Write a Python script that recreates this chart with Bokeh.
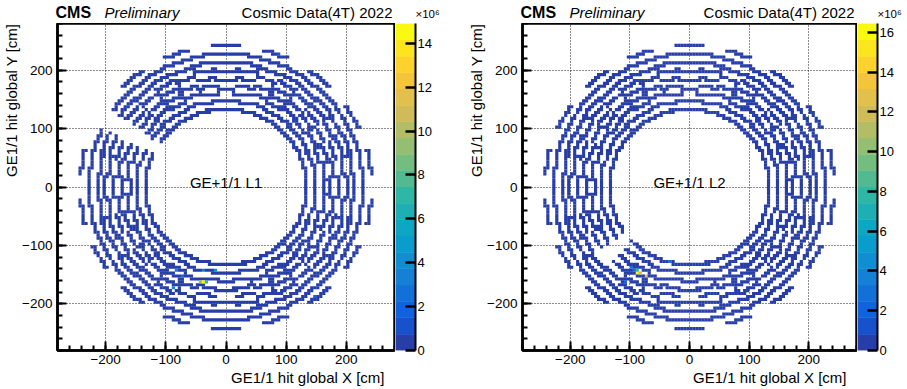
import numpy as np
from bokeh.plotting import figure
from bokeh.models import (LinearColorMapper, Label, CustomJSTickFormatter, FixedTicker,
                          SingleIntervalTicker, Range1d, ColumnDataSource, Title)
from bokeh.layouts import row, column
from bokeh.transform import transform
from bokeh.embed import file_html
from bokeh.resources import INLINE

# ---------------- values ----------------
# GE1/1 chamber centres (degrees); long and short chambers alternate
LONG_CHAMBER_PHI = [10, 30, 50, 70, 90, 110, 130, 150, 170, 190, 210, 230, 250, 270, 290, 310, 330, 350]
SHORT_CHAMBER_PHI = [0, 20, 40, 60, 80, 100, 120, 140, 160, 180, 200, 220, 240, 260, 280, 300, 320, 340]
# radius (cm) of the eta-partition centre lines
LONG_PARTITION_R = [134, 149, 165, 180, 196, 211, 227, 242]
SHORT_PARTITION_R = [133, 147, 160, 174, 187, 201, 214, 228]
CHAMBER_HALF_ANGLE_DEG = 5.1
BIN_CM = 5.0
AXIS_LO, AXIS_HI = -280, 280
AXIS_TICKS = [-200, -100, 0, 100, 200]

BASE_COUNT = 0.35          # x10^6, typical filled bin
# (chamber phi, max partition radius that is dead)
L1_DEAD = [(150, 999)]
L2_DEAD = [(220, 190)]

L1_HOT_X = [-43, -38, -33, -36, -18, -84, -74, -90, 148, 0, 85]
L1_HOT_Y = [-164, -164, -164, -142, -144, -144, -153, -172, -190, 225, 225]
L1_HOT_V = [9.0, 14.7, 7.0, 3.0, 4.2, 3.0, 2.5, 3.0, 2.0, 1.3, 1.3]

L2_HOT_X = [-89, -95, -86, -81, -74, -32, -100, -106]
L2_HOT_Y = [-141, -144, -146, -146, -153, -130, -136, -161]
L2_HOT_V = [8.0, 3.0, 16.4, 12.0, 13.0, 2.5, 3.0, 2.0]

L1_ZMAX = 14.9
L2_ZMAX = 16.45
L1_CB_TICKS = [0, 2, 4, 6, 8, 10, 12, 14]
L2_CB_TICKS = [0, 2, 4, 6, 8, 10, 12, 14, 16]
N_CONTOURS = 20

L1_TEXT = "GE+1/1 L1"
L2_TEXT = "GE+1/1 L2"
X_TITLE = "GE1/1 hit global X [cm]"
Y_TITLE = "GE1/1 hit global Y [cm]"

# ROOT kBird palette stops
BIRD_STOPS = [0.0, 0.125, 0.25, 0.375, 0.5, 0.625, 0.75, 0.875, 1.0]
BIRD_R = [0.2082, 0.0592, 0.0780, 0.0232, 0.1802, 0.5301, 0.8186, 0.9956, 0.9764]
BIRD_G = [0.1664, 0.3599, 0.5041, 0.6419, 0.7178, 0.7492, 0.7328, 0.7862, 0.9832]
BIRD_B = [0.5293, 0.8684, 0.8385, 0.7914, 0.6425, 0.4662, 0.3499, 0.1968, 0.0539]

FONT = "Liberation Sans"

# layout (pixels)
TOP_H = 23
PANEL_H = 365
BOTTOM_B = 38


def bird(pos):
    r = np.interp(pos, BIRD_STOPS, BIRD_R)
    g = np.interp(pos, BIRD_STOPS, BIRD_G)
    b = np.interp(pos, BIRD_STOPS, BIRD_B)
    return "#%02x%02x%02x" % (int(round(r * 255)), int(round(g * 255)), int(round(b * 255)))


PALETTE = [bird(int((i + 0.99) * 255 / N_CONTOURS) / 255.0) for i in range(N_CONTOURS)]


def bin_index(v):
    return int(np.floor((v - AXIS_LO) / BIN_CM))


def build_cells(dead, hx, hy, hv):
    dead_map = dict(dead)
    cells = {}
    ta = np.tan(np.radians(CHAMBER_HALF_ANGLE_DEG))
    for phis, radii in ((LONG_CHAMBER_PHI, LONG_PARTITION_R), (SHORT_CHAMBER_PHI, SHORT_PARTITION_R)):
        for phi in phis:
            a = np.radians(phi)
            c, s = np.cos(a), np.sin(a)
            for r in radii:
                if phi in dead_map and r <= dead_map[phi]:
                    continue
                hw = r * ta
                t = np.arange(-hw, hw + 1e-9, 0.4)
                xs = r * c - t * s
                ys = r * s + t * c
                for x, y in zip(xs, ys):
                    cells[(bin_index(x), bin_index(y))] = BASE_COUNT
    for x, y, v in zip(hx, hy, hv):
        cells[(bin_index(x), bin_index(y))] = v
    keys = list(cells.keys())
    return ColumnDataSource(dict(
        x=[AXIS_LO + (k[0] + 0.5) * BIN_CM for k in keys],
        y=[AXIS_LO + (k[1] + 0.5) * BIN_CM for k in keys],
        v=[cells[k] for k in keys],
    ))


MINUS_FMT = "return (tick < 0 ? '\\u2212' : '') + Math.abs(tick).toFixed(0);"


def panel(src, zmax, label_text, width, frame_w, left_b):
    p = figure(width=width, height=PANEL_H, x_range=Range1d(AXIS_LO, AXIS_HI),
               y_range=Range1d(AXIS_LO, AXIS_HI), output_backend="svg",
               toolbar_location=None, min_border_left=left_b,
               min_border_right=width - left_b - frame_w,
               min_border_top=0, min_border_bottom=BOTTOM_B)
    mapper = LinearColorMapper(palette=PALETTE, low=0, high=zmax)
    p.rect(x="x", y="y", width=BIN_CM * 1.06, height=BIN_CM * 1.06, source=src,
           fill_color=transform("v", mapper), line_color=None)
    for ax in (p.xaxis[0], p.yaxis[0]):
        ax.ticker = SingleIntervalTicker(interval=100, num_minor_ticks=5)
        ax.formatter = CustomJSTickFormatter(code=MINUS_FMT)
        ax.major_tick_in = 9
        ax.major_tick_out = 0
        ax.minor_tick_in = 5
        ax.minor_tick_out = 0
        ax.axis_line_width = 2.5
        ax.major_tick_line_width = 2
        ax.minor_tick_line_width = 2
        ax.major_label_text_font = FONT
        ax.major_label_text_font_size = "13.5px"
        ax.major_label_text_color = "black"
    p.xaxis.major_label_standoff = 4
    p.yaxis.major_label_standoff = 5
    for g in (p.xgrid[0], p.ygrid[0]):
        g.ticker = FixedTicker(ticks=AXIS_TICKS)
        g.grid_line_color = "black"
        g.grid_line_dash = "1 2"
        g.grid_line_width = 1
        g.grid_line_alpha = 0.9
    p.outline_line_color = "black"
    p.outline_line_width = 2.5
    p.outline_line_alpha = 1

    p.add_layout(Label(x=0, y=8, text=label_text, text_font=FONT, text_font_size="15px",
                       text_color="black", text_baseline="middle", text_align="center"))
    p.add_layout(Title(text=X_TITLE, align="right", offset=10, standoff=0, text_color="black",
                       text_font=FONT, text_font_size="15px", text_font_style="normal"), "below")
    p.add_layout(Title(text=Y_TITLE, align="right", offset=0, standoff=0, text_color="black",
                       text_font=FONT, text_font_size="15px", text_font_style="normal"), "left")
    return p


def colorbar(zmax, ticks, width, right_border):
    cb = figure(width=width, height=PANEL_H, x_range=Range1d(0, 1), y_range=Range1d(0, zmax),
                output_backend="svg", toolbar_location=None, x_axis_location=None,
                y_axis_location="right", min_border_left=0, min_border_right=right_border,
                min_border_top=0, min_border_bottom=BOTTOM_B)
    step = zmax / N_CONTOURS
    cb.quad(left=0, right=1, bottom=[i * step for i in range(N_CONTOURS)],
            top=[(i + 1) * step for i in range(N_CONTOURS)],
            fill_color=PALETTE, line_color=PALETTE, line_width=0.5)
    cb.grid.visible = False
    cb.outline_line_color = None
    ax = cb.yaxis[0]
    ax.ticker = FixedTicker(ticks=ticks)
    ax.major_tick_in = 10
    ax.major_tick_out = 0
    ax.major_tick_line_width = 2.5
    ax.minor_tick_line_color = None
    ax.axis_line_width = 2
    ax.major_label_standoff = 2
    ax.major_label_text_font = FONT
    ax.major_label_text_font_size = "13px"
    ax.major_label_text_color = "black"
    return cb


def header(width):
    h = figure(width=width, height=TOP_H, x_range=Range1d(0, width), y_range=Range1d(0, TOP_H),
               output_backend="svg", toolbar_location=None, x_axis_location=None,
               y_axis_location=None, min_border_left=0, min_border_right=0,
               min_border_top=0, min_border_bottom=0)
    h.grid.visible = False
    h.outline_line_color = None
    for fl, fr, bar_r in ((53, 394, 415), (518, 856, 877)):
        h.add_layout(Label(x=fl + 2, y=11.5, text="CMS", text_font=FONT, text_font_style="bold",
                           text_font_size="16px", text_color="black",
                           text_baseline="middle", text_align="left"))
        h.add_layout(Label(x=fl + 51, y=11.5, text="Preliminary", text_font=FONT,
                           text_font_style="italic", text_font_size="15px", text_color="black",
                           text_baseline="middle", text_align="left"))
        h.add_layout(Label(x=fr - 2, y=11.5, text="Cosmic Data(4T) 2022", text_font=FONT,
                           text_font_size="15px", text_color="black",
                           text_baseline="middle", text_align="right"))
        h.add_layout(Label(x=bar_r, y=10, text="\u00d710\u2076", text_font=FONT,
                           text_font_size="11.5px", text_color="black",
                           text_baseline="middle", text_align="left"))
    return h


src1 = build_cells(L1_DEAD, L1_HOT_X, L1_HOT_Y, L1_HOT_V)
src2 = build_cells(L2_DEAD, L2_HOT_X, L2_HOT_Y, L2_HOT_V)

p1 = panel(src1, L1_ZMAX, L1_TEXT, 395, 341, 53)
c1 = colorbar(L1_ZMAX, L1_CB_TICKS, 70, 50)
p2 = panel(src2, L2_ZMAX, L2_TEXT, 392, 338, 53)
c2 = colorbar(L2_ZMAX, L2_CB_TICKS, 50, 30)

layout = column(header(907), row(p1, c1, p2, c2, spacing=0), spacing=0)
open("out.html", "w").write(file_html(layout, INLINE))
